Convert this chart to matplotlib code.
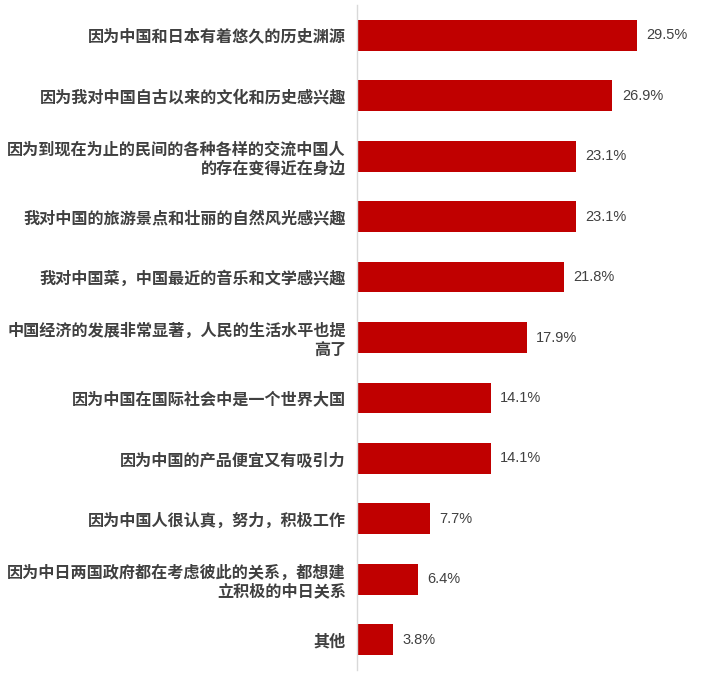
import matplotlib.pyplot as plt

plt.rcParams['font.family'] = ['Noto Sans CJK SC', 'DejaVu Sans']

# Reasons (top to bottom) and shares in percent
reasons = [
    '因为中国和日本有着悠久的历史渊源',
    '因为我对中国自古以来的文化和历史感兴趣',
    '因为到现在为止的民间的各种各样的交流中国人\n的存在变得近在身边',
    '我对中国的旅游景点和壮丽的自然风光感兴趣',
    '我对中国菜，中国最近的音乐和文学感兴趣',
    '中国经济的发展非常显著，人民的生活水平也提\n高了',
    '因为中国在国际社会中是一个世界大国',
    '因为中国的产品便宜又有吸引力',
    '因为中国人很认真，努力，积极工作',
    '因为中日两国政府都在考虑彼此的关系，都想建\n立积极的中日关系',
    '其他',
]
shares = [29.5, 26.9, 23.1, 23.1, 21.8, 17.9, 14.1, 14.1, 7.7, 6.4, 3.8]

bar_color = '#C00000'
text_color = '#404040'

fig = plt.figure(figsize=(7.09, 6.89), dpi=100)
ax = fig.add_axes([357 / 709, 1 - 670 / 689, (705 - 357) / 709, 665 / 689])

pos = list(range(len(reasons)))
ax.barh(pos, shares, height=0.51, color=bar_color)

for y, v in zip(pos, shares):
    ax.text(v + 1.0, y, f'{v:.1f}%', va='center', ha='left',
            fontsize=10.5, color=text_color, family=['Liberation Sans', 'DejaVu Sans'])

ax.set_xlim(0, (705 - 357) / 9.49)
ax.set_ylim(len(reasons) - 0.5, -0.5)
ax.set_yticks(pos)
ax.set_yticklabels(reasons, fontsize=11.6, fontweight='bold', color=text_color,
                   linespacing=1.2)
ax.tick_params(axis='y', length=0, pad=8)
ax.set_xticks([])

for s in ['top', 'right', 'bottom']:
    ax.spines[s].set_visible(False)
ax.spines['left'].set_color('#D9D9D9')
ax.spines['left'].set_linewidth(1)

fig.savefig('out.png', dpi=100)
